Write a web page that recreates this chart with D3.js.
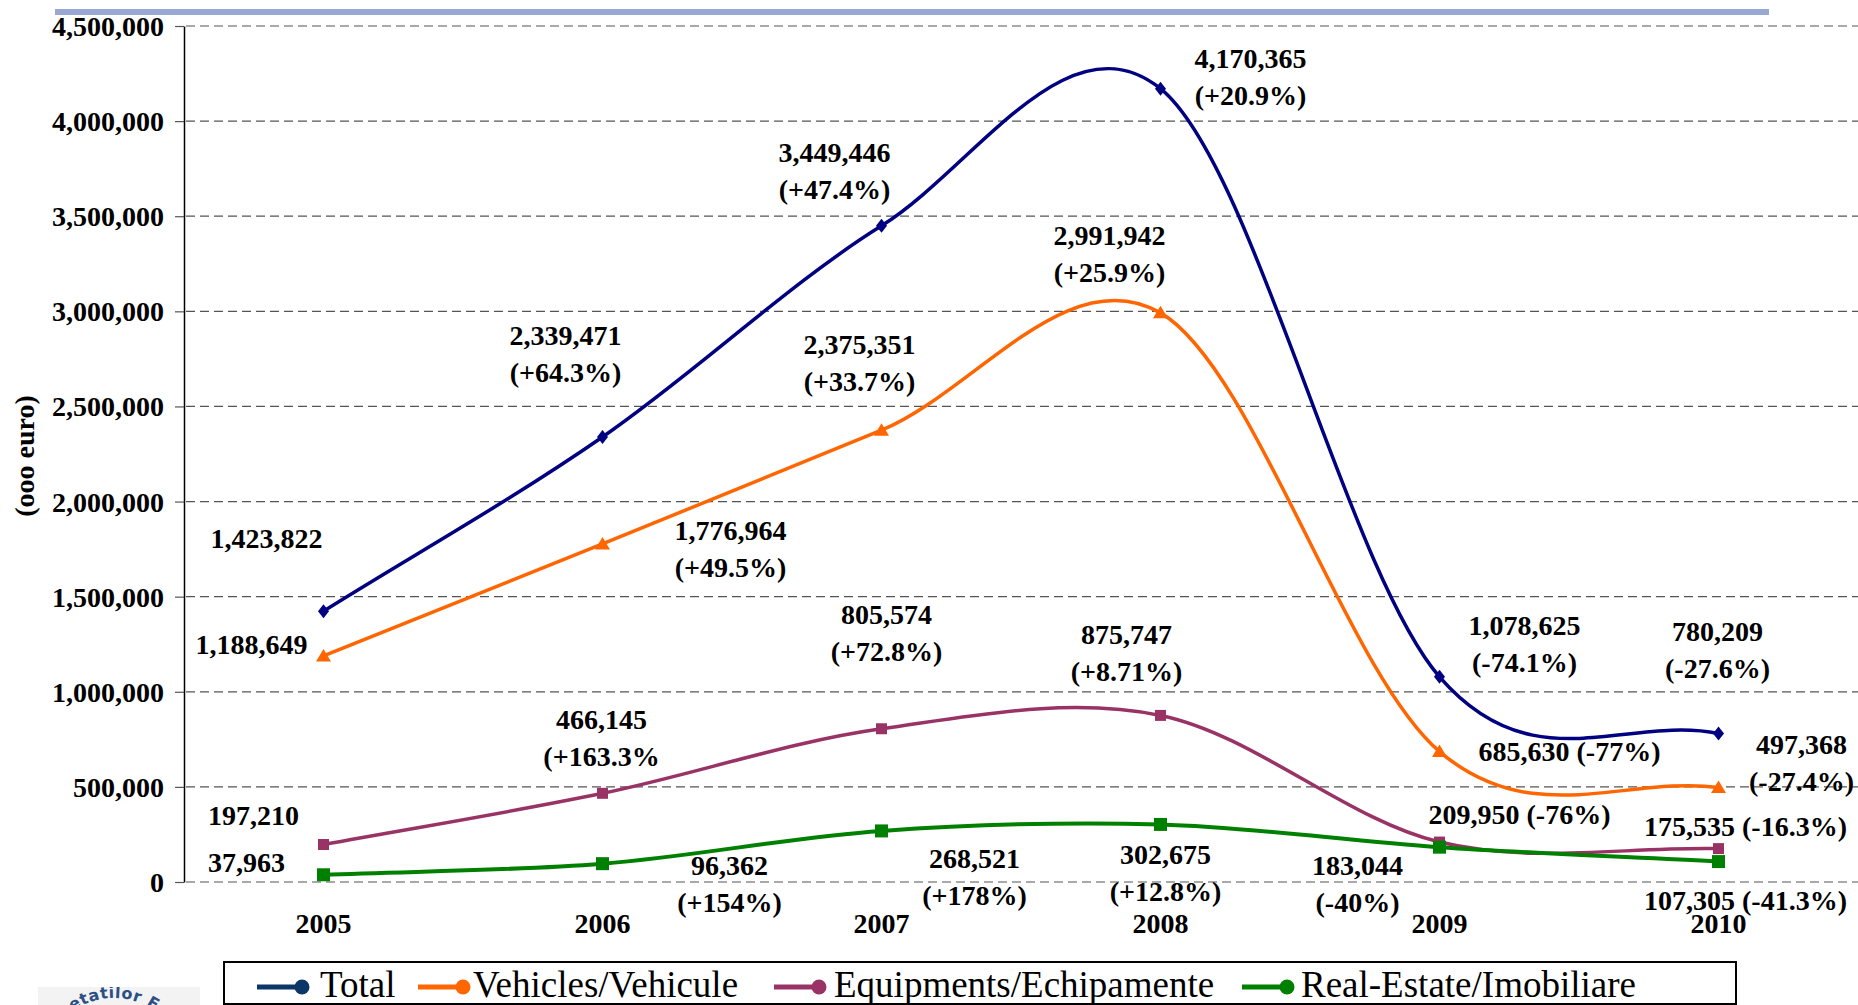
<!DOCTYPE html>
<html>
<head>
<meta charset="utf-8">
<script src="https://cdn.jsdelivr.net/npm/d3@7"></script>
<style>
  html, body { margin: 0; padding: 0; background: #fff; overflow: hidden; }
  svg { display: block; font-family: "Liberation Serif", "Times New Roman", serif; }
</style>
</head>
<body>
<svg id="chart" width="1858" height="1005"></svg>
<script>
// data
const years = ['2005', '2006', '2007', '2008', '2009', '2010'];
const total = [1423822, 2339471, 3449446, 4170365, 1078625, 780209];
const vehicles = [1188649, 1776964, 2375351, 2991942, 685630, 497368];
const equipments = [197210, 466145, 805574, 875747, 209950, 175535];
const realEstate = [37963, 96362, 268521, 302675, 183044, 107305];

const totalPct = [null, '(+64.3%)', '(+47.4%)', '(+20.9%)', '(-74.1%)', '(-27.6%)'];
const vehiclesPct = [null, '(+49.5%)', '(+33.7%)', '(+25.9%)', '(-77%)', '(-27.4%)'];
const equipmentsPct = [null, '(+163.3%', '(+72.8%)', '(+8.71%)', '(-76%)', '(-16.3%)'];
const realEstatePct = [null, '(+154%)', '(+178%)', '(+12.8%)', '(-40%)', '(-41.3%)'];

const yTicks = [0, 500000, 1000000, 1500000, 2000000, 2500000, 3000000, 3500000, 4000000, 4500000];
const yTitle = '(ooo euro)';

// label placement, offsets from the point: [dx, dy, inline]
const totalLabelPos = [[-57, -73], [-37, -102], [-47, -74], [90, -31], [85, -52], [-1, -102]];
const vehiclesLabelPos = [[-72, -12], [128, -14], [-22, -86], [-51, -78], [130, 0, true], [83, -43]];
const equipmentsLabelPos = [[-70, -29], [-1, -74], [5, -115], [-34, -81], [80, -28, true], [27, -22, true]];
const realEstateLabelPos = [[-77, -13], [127, 2], [93, 27], [5, 30], [-82, 18], [27, 39, true]];

const series = [
    { name: 'Total', values: total, pct: totalPct, pos: totalLabelPos,
      color: '#000080', legendColor: '#0a3767', width: 3.5, marker: 'diamond' },
    { name: 'Vehicles/Vehicule', values: vehicles, pct: vehiclesPct, pos: vehiclesLabelPos,
      color: '#ff6600', legendColor: '#ff6600', width: 3.5, marker: 'triangle' },
    { name: 'Equipments/Echipamente', values: equipments, pct: equipmentsPct, pos: equipmentsLabelPos,
      color: '#993366', legendColor: '#993366', width: 3.5, marker: 'square' },
    { name: 'Real-Estate/Imobiliare', values: realEstate, pct: realEstatePct, pos: realEstateLabelPos,
      color: '#008000', legendColor: '#008000', width: 4, marker: 'bigsquare' }
];

const svg = d3.select('#chart');
const W = 1858;

const x = d3.scalePoint().domain(years).range([184, W]).padding(0.5);
const y = d3.scaleLinear().domain([0, 4500000]).range([882, 26]);
const fmt = d3.format(',');

// top band
svg.append('rect')
    .attr('x', 55).attr('y', 9).attr('width', 1714).attr('height', 6)
    .attr('fill', '#99a8d2');

// gridlines
svg.append('g').selectAll('line')
    .data(yTicks)
    .enter().append('line')
    .attr('x1', 186).attr('x2', W)
    .attr('y1', d => y(d)).attr('y2', d => y(d))
    .attr('stroke', '#555')
    .attr('stroke-width', 1.2)
    .attr('stroke-dasharray', '9,5');

// y axis
const yAxis = svg.append('g')
    .attr('transform', 'translate(184,0)')
    .call(d3.axisLeft(y).tickValues(yTicks).tickFormat(fmt)
        .tickSizeInner(9).tickSizeOuter(0).tickPadding(11));
yAxis.select('.domain').attr('stroke', '#000').attr('stroke-width', 1.5);
yAxis.selectAll('.tick line').attr('stroke', '#555').attr('stroke-width', 1.2);
yAxis.selectAll('.tick text')
    .attr('font-family', '"Liberation Serif", "Times New Roman", serif')
    .attr('font-size', 28).attr('font-weight', 'bold').attr('fill', '#000')
    .attr('dy', '0.34em');

svg.append('text')
    .attr('transform', 'translate(34,456) rotate(-90)')
    .attr('text-anchor', 'middle')
    .attr('font-size', 28).attr('font-weight', 'bold')
    .text(yTitle);

// x labels
svg.append('g').selectAll('text')
    .data(years)
    .enter().append('text')
    .attr('x', d => x(d)).attr('y', 923).attr('dy', '0.35em')
    .attr('text-anchor', 'middle')
    .attr('font-size', 28).attr('font-weight', 'bold')
    .text(d => d);

// smoothed line like the spreadsheet one: 1/6 tangents inside, 1/3 of the chord at the ends
function smoothPath(values) {
    const pts = values.map((v, i) => [x(years[i]), y(v)]);
    const p = d3.path();
    p.moveTo(pts[0][0], pts[0][1]);
    for (let i = 0; i < pts.length - 1; i++) {
        const a = pts[i], b = pts[i + 1];
        const prev = pts[i - 1], next = pts[i + 2];
        const c1 = prev
            ? [a[0] + (b[0] - prev[0]) / 6, a[1] + (b[1] - prev[1]) / 6]
            : [a[0] + (b[0] - a[0]) / 3, a[1] + (b[1] - a[1]) / 3];
        const c2 = next
            ? [b[0] - (next[0] - a[0]) / 6, b[1] - (next[1] - a[1]) / 6]
            : [b[0] - (b[0] - a[0]) / 3, b[1] - (b[1] - a[1]) / 3];
        p.bezierCurveTo(c1[0], c1[1], c2[0], c2[1], b[0], b[1]);
    }
    return p.toString();
}

const markerPath = {
    diamond: 'M0,-7L5.5,0L0,7L-5.5,0Z',
    triangle: 'M0,-7L7.5,5.5L-7.5,5.5Z',
    square: 'M-5.5,-5.5H5.5V5.5H-5.5Z',
    bigsquare: 'M-6.5,-6.5H6.5V6.5H-6.5Z'
};

series.forEach(s => {
    svg.append('path')
        .attr('d', smoothPath(s.values))
        .attr('fill', 'none')
        .attr('stroke', s.color)
        .attr('stroke-width', s.width)
        .attr('stroke-linejoin', 'round');
});

series.forEach(s => {
    svg.append('g').selectAll('path')
        .data(s.values)
        .enter().append('path')
        .attr('transform', (d, i) => `translate(${x(years[i])},${y(d)})`)
        .attr('d', markerPath[s.marker])
        .attr('fill', s.color);
});

// data labels
series.forEach(s => {
    const g = svg.append('g')
        .attr('font-size', 28).attr('font-weight', 'bold')
        .attr('text-anchor', 'middle');
    s.values.forEach((v, i) => {
        const [dx, dy, inline] = s.pos[i];
        const px = x(years[i]) + dx;
        const py = y(v) + dy;
        const pct = s.pct[i];
        g.append('text')
            .attr('x', px).attr('y', py).attr('dy', '0.35em')
            .text(inline && pct ? `${fmt(v)} ${pct}` : fmt(v));
        if (pct && !inline) {
            g.append('text')
                .attr('x', px).attr('y', py + 37).attr('dy', '0.35em')
                .text(pct);
        }
    });
});

// legend
const legendCircleX = [302, 463, 819, 1287];
const legendTextX = [320, 473, 834, 1301];
const legend = svg.append('g');
legend.append('rect')
    .attr('x', 224).attr('y', 962).attr('width', 1512).attr('height', 42)
    .attr('fill', '#fff').attr('stroke', '#000').attr('stroke-width', 2);
series.forEach((s, i) => {
    legend.append('line')
        .attr('x1', legendCircleX[i] - 45).attr('x2', legendCircleX[i])
        .attr('y1', 987).attr('y2', 987)
        .attr('stroke', s.legendColor).attr('stroke-width', 5);
    legend.append('circle')
        .attr('cx', legendCircleX[i]).attr('cy', 987).attr('r', 7.5)
        .attr('fill', s.legendColor);
    legend.append('text')
        .attr('x', legendTextX[i]).attr('y', 997)
        .attr('font-size', 37)
        .text(s.name);
});

// logo fragment in the corner
const logo = svg.append('g');
logo.append('clipPath').attr('id', 'logoClip')
    .append('rect').attr('x', 38).attr('y', 987).attr('width', 162).attr('height', 20);
const lg = logo.append('g').attr('clip-path', 'url(#logoClip)');
lg.append('rect').attr('x', 38).attr('y', 987).attr('width', 162).attr('height', 20).attr('fill', '#f3f3f3');
lg.append('path').attr('id', 'logoArc')
    .attr('d', 'M42,1070 A72,72 0 0,1 186,1070').attr('fill', 'none');
lg.append('path')
    .attr('d', 'M62,1060 A52,52 0 0,1 166,1060')
    .attr('fill', 'none').attr('stroke', '#23467e').attr('stroke-width', 3);
lg.append('text')
    .attr('font-family', '"DejaVu Sans", sans-serif')
    .attr('font-size', 16).attr('font-weight', 'bold').attr('fill', '#2b4f87')
    .attr('letter-spacing', 0.5)
    .append('textPath').attr('href', '#logoArc')
    .attr('startOffset', '50%').attr('text-anchor', 'middle')
    .text('etatilor F');
</script>
</body>
</html>
